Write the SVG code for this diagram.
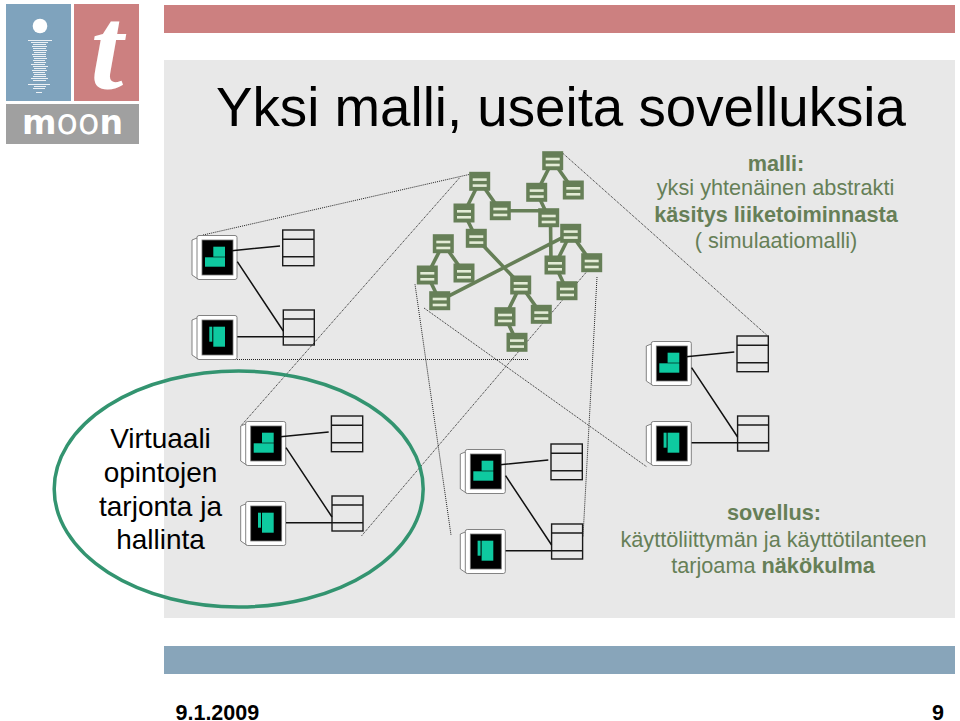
<svg xmlns="http://www.w3.org/2000/svg" width="960" height="721" viewBox="0 0 960 721">
<style>
text{font-family:"Liberation Sans",Arial,sans-serif}
.g{fill:#667f57;font-size:21.7px;text-anchor:middle}
.k{fill:#000;font-size:28px;text-anchor:middle}
.b{font-weight:bold}
.e{stroke:#667f57;stroke-width:3.6;fill:none}
.d{stroke:#222;stroke-width:1;stroke-dasharray:1 1;fill:none}
.l{stroke:#111;stroke-width:1.5;fill:none}
.t{fill:none;stroke:#1a1a1a;stroke-width:1.4}
.w{fill:#fff;stroke:#666;stroke-width:.8}
.s{fill:#0ec9a0}
.r{stroke:#fff;stroke-width:1;fill:none;opacity:.85}
</style>
<defs>
<g id="node"><rect x="-10.500" y="-9.500" width="21" height="19" fill="#667f57"/><rect x="-7" y="-3" width="14" height="2.600" fill="#e3ecd6"/><rect x="-7" y="3" width="14" height="2.600" fill="#e3ecd6"/></g>
<g id="mon"><path class="w" d="M197 238L192 240V275L198 279V238Z"/><rect class="w" x="197" y="235.500" width="40" height="44" rx="2"/><rect x="202" y="240" width="31" height="35" fill="#000" stroke="#777" stroke-width=".8"/></g>
<g id="set">
<use href="#mon"/><rect class="s" x="213.300" y="246.700" width="11.700" height="10"/><rect class="s" x="205" y="257.300" width="20" height="9.400"/>
<use href="#mon" y="80"/><rect class="s" x="209.300" y="326.700" width="3" height="15"/><rect class="s" x="213.300" y="326.700" width="11.700" height="20"/>
<rect class="t" x="282.700" y="230" width="31.300" height="35.700"/><path class="t" d="M282.700 239.300H314M282.700 256.700H314"/>
<rect class="t" x="283.300" y="310" width="31" height="35"/><path class="t" d="M283.300 319H314.300M283.300 336.700H314.300"/>
<path class="l" d="M231.700 250.700L280 246M237.300 261.700L283.300 331M237.300 336.700H283.300"/>
</g>
</defs>
<rect width="960" height="721" fill="#fff"/>
<rect id="top-bar" x="164" y="5" width="791" height="28" fill="#cc8080"/>
<rect id="panel" x="164" y="60" width="791" height="558" fill="#e8e8e8"/>
<rect id="bottom-bar" x="164" y="646" width="791" height="28" fill="#88a5ba"/>
<g id="logo">
<rect x="6" y="4" width="65" height="97" fill="#7fa3bd"/><rect x="74" y="4" width="65" height="97" fill="#cc8080"/><rect x="6" y="104" width="133" height="40" fill="#a0a0a0"/>
<circle cx="40" cy="26" r="7.300" fill="#fff"/>
<path class="r" d="M28 40.500H52M31 42.500H48M33 44.500H46M32 46.500H47M33 48.500H46M33 50.500H47M34 52.500H46M32 54.500H46M33 56.500H46M34 58.500H47M33 60.500H45M34 62.500H46M31 64.500H45M33 66.500H48M34 68.500H46M32 70.500H47M33 72.500H45M34 74.500H46M33 76.500H46M31 78.500H48M33 80.500H46M28 84.500H50M34 86.500H46M33 88.500H45M36 92.500H42"/>
<text x="107" y="89" font-size="118" font-style="italic" font-weight="bold" text-anchor="middle" fill="#fff" style="font-family:'Liberation Serif',serif">t</text>
<text x="22" y="134" font-size="34" fill="#fff" textLength="101" lengthAdjust="spacingAndGlyphs" style="font-family:'DejaVu Sans',sans-serif"><tspan font-weight="bold">m</tspan><tspan font-size="36">oo</tspan><tspan font-weight="bold">n</tspan></text>
</g>
<text id="title" x="216" y="126" font-size="54.700" fill="#000">Yksi malli, useita sovelluksia</text>
<g id="connectors">
<path class="d" d="M203 235L475.700 173M241.700 425L460 177.300M415 284.300L451 535M424 308L647 467M361.700 535.700L587.300 271M597 277L583 537M561.700 152.300L766.700 335M233 359.500H528"/>
<path class="e" d="M552.700 160.700L536.700 192.300M552.700 160.700L573.300 190M536.700 192.300L548.700 217.700M548.700 210.700H500.300M550.500 217.700L551 265M570.700 233.300L555 265M570.700 233.300L591.700 262.700M555 265L567 290.700M570.700 233.300L439.700 300.700M479.700 181.300L464 213M479.700 181.300L500.300 210.700M464 213L476.300 238.300M476.300 238.300L520.700 285M520.700 285L505 316.700M520.700 285L541.300 314.300M505 316.700L517 342.300M443.300 243.700L427.300 275M443.300 243.700L464 273M427.300 275L439.700 300.700"/>
</g>
<g id="model-1"><use href="#node" x="552.700" y="160.700"/></g>
<g id="model-2"><use href="#node" x="536.700" y="192.300"/></g>
<g id="model-3"><use href="#node" x="573.300" y="190"/></g>
<g id="model-4"><use href="#node" x="548.700" y="217.700"/></g>
<g id="model-5"><use href="#node" x="570.700" y="233.300"/></g>
<g id="model-6"><use href="#node" x="555" y="265"/></g>
<g id="model-7"><use href="#node" x="591.700" y="262.700"/></g>
<g id="model-8"><use href="#node" x="567" y="290.700"/></g>
<g id="model-9"><use href="#node" x="479.700" y="181.300"/></g>
<g id="model-10"><use href="#node" x="464" y="213"/></g>
<g id="model-11"><use href="#node" x="500.300" y="210.700"/></g>
<g id="model-12"><use href="#node" x="476.300" y="238.300"/></g>
<g id="model-13"><use href="#node" x="443.300" y="243.700"/></g>
<g id="model-14"><use href="#node" x="427.300" y="275"/></g>
<g id="model-15"><use href="#node" x="464" y="273"/></g>
<g id="model-16"><use href="#node" x="439.700" y="300.700"/></g>
<g id="model-17"><use href="#node" x="520.700" y="285"/></g>
<g id="model-18"><use href="#node" x="505" y="316.700"/></g>
<g id="model-19"><use href="#node" x="541.300" y="314.300"/></g>
<g id="model-20"><use href="#node" x="517" y="342.300"/></g>
<g id="app-1"><use href="#set"/></g>
<g id="app-2"><use href="#set" x="48.700" y="186"/></g>
<g id="app-3"><use href="#set" x="268.300" y="214"/></g>
<g id="app-4"><use href="#set" x="454.300" y="106"/></g>
<ellipse id="highlight" cx="238.700" cy="489" rx="184.500" ry="118" fill="none" stroke="#339470" stroke-width="3.500"/>
<g id="label-virtuaali">
<text class="k" x="160.500" y="448">Virtuaali</text><text class="k" x="160.500" y="482">opintojen</text><text class="k" x="160.500" y="516">tarjonta ja</text><text class="k" x="160.500" y="549">hallinta</text>
</g>
<g id="label-malli">
<text class="g b" x="776" y="171">malli:</text>
<text class="g" x="775.500" y="195">yksi yhtenäinen abstrakti</text>
<text class="g b" x="776" y="222">käsitys liiketoiminnasta</text>
<text class="g" x="776" y="248">( simulaatiomalli)</text>
</g>
<g id="label-sovellus">
<text class="g b" x="774" y="520">sovellus:</text>
<text class="g" x="773.500" y="546.500">käyttöliittymän ja käyttötilanteen</text>
<text class="g" x="773" y="572.500">tarjoama <tspan class="b">näkökulma</tspan></text>
</g>
<text id="date" x="175.500" y="719.500" font-size="21.500" font-weight="bold" fill="#000">9.1.2009</text>
<text id="page" x="932" y="719.500" font-size="21.500" font-weight="bold" fill="#000">9</text>
</svg>
